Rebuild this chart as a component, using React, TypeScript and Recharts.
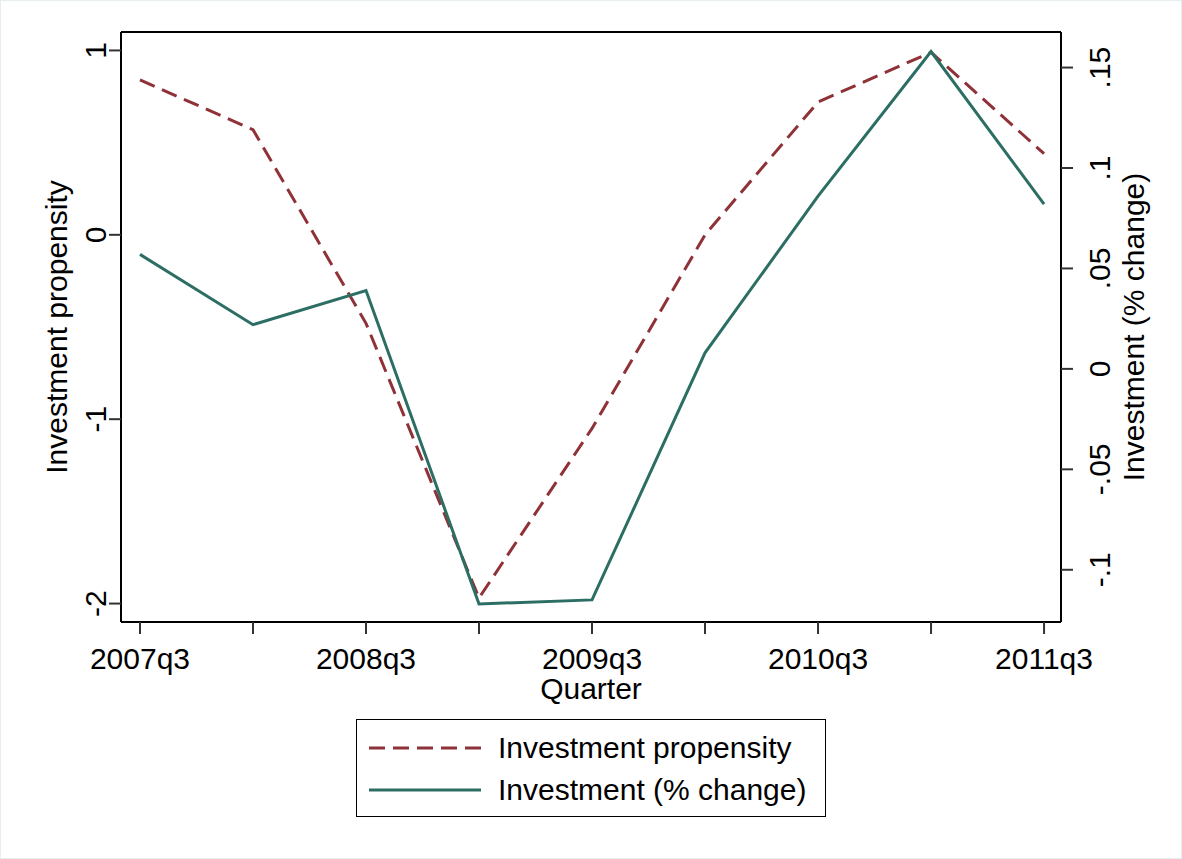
import { LineChart, Line, XAxis, YAxis, Legend, ReferenceLine } from 'recharts';

const quarters = ['2007q3', '2008q1', '2008q3', '2009q1', '2009q3', '2010q1', '2010q3', '2011q1', '2011q3'];
const propensity = [0.84, 0.57, -0.48, -1.97, -1.05, 0.0, 0.72, 0.99, 0.44];
const investment = [0.057, 0.022, 0.039, -0.117, -0.115, 0.008, 0.086, 0.158, 0.082];

const leftTicks = [-2, -1, 0, 1];
const rightTicks = [-0.1, -0.05, 0, 0.05, 0.1, 0.15];
const rightTickLabels = ['-.1', '-.05', '0', '.05', '.1', '.15'];

const seriesNames = ['Investment propensity', 'Investment (% change)'];
const RED = '#8f3238';
const GREEN = '#2c6e64';
const FONT = '"Liberation Sans", Arial, sans-serif';
const FS = 30;

const data = quarters.map((q, i) => ({ i, q, propensity: propensity[i], investment: investment[i] }));

const VTick = ({ x, y, payload, shift, fmt }: any) => (
  <text
    transform={`translate(${x + shift},${y}) rotate(-90)`}
    textAnchor="middle"
    fontFamily={FONT}
    fontSize={FS}
    fill="#000"
  >
    {fmt(payload.value)}
  </text>
);

const XTick = ({ x, y, payload }: any) => {
  const idx = payload.value as number;
  if (idx % 2 !== 0) return null;
  return (
    <text x={x} y={y + 33} textAnchor="middle" fontFamily={FONT} fontSize={FS} fill="#000">
      {quarters[idx]}
    </text>
  );
};

const VLabel = ({ viewBox, value, cx }: any) => {
  const cy = viewBox.y + viewBox.height / 2;
  return (
    <text
      transform={`translate(${viewBox.x + cx},${cy}) rotate(-90)`}
      textAnchor="middle"
      dominantBaseline="central"
      fontFamily={FONT}
      fontSize={FS}
      fill="#000"
    >
      {value}
    </text>
  );
};

const LegendBox = () => (
  <div style={{ height: 131, display: 'flex', justifyContent: 'center', alignItems: 'flex-start' }}>
    <div
      style={{
        marginTop: 22,
        width: 470,
        height: 98,
        border: '1.5px solid #000',
        boxSizing: 'border-box',
        fontFamily: FONT,
        fontSize: FS,
        padding: '7px 0 0 12px',
      }}
    >
      {seriesNames.map((name, k) => (
        <div key={name} style={{ display: 'flex', alignItems: 'center', height: 42 }}>
          <svg width={112} height={6} style={{ marginRight: 17 }}>
            <line
              x1={0}
              y1={3}
              x2={112}
              y2={3}
              stroke={k === 0 ? RED : GREEN}
              strokeWidth={3}
              strokeDasharray={k === 0 ? '16 8' : undefined}
            />
          </svg>
          <span>{name}</span>
        </div>
      ))}
    </div>
  </div>
);

export default function App() {
  return (
    <div
      style={{
        position: 'absolute',
        left: 0,
        top: 0,
        width: 1182,
        height: 859,
        background: '#fff',
        boxSizing: 'border-box',
        border: '1px solid #e6eef0',
      }}
    >
      <LineChart width={1180} height={857} data={data} margin={{ top: 31, right: 0, bottom: 30, left: 0 }}>
        <XAxis
          dataKey="i"
          type="number"
          domain={[-0.168, 8.15]}
          ticks={[0, 1, 2, 3, 4, 5, 6, 7, 8]}
          allowDataOverflow
          height={75}
          tickSize={12}
          axisLine={{ stroke: '#000', strokeWidth: 2 }}
          tickLine={{ stroke: '#333', strokeWidth: 2 }}
          tick={<XTick />}
          label={{
            value: 'Quarter',
            content: ({ viewBox }: any) => (
              <text
                x={viewBox.x + viewBox.width / 2}
                y={viewBox.y + 66}
                textAnchor="middle"
                dominantBaseline="central"
                fontFamily={FONT}
                fontSize={FS}
                fill="#000"
              >
                Quarter
              </text>
            ),
          }}
        />
        <YAxis
          yAxisId="left"
          orientation="left"
          width={120}
          domain={[-2.1, 1.1]}
          ticks={leftTicks}
          allowDataOverflow
          tickSize={12}
          axisLine={{ stroke: '#000', strokeWidth: 2 }}
          tickLine={{ stroke: '#333', strokeWidth: 2 }}
          tick={<VTick shift={-1} fmt={(v: number) => String(v)} />}
          label={<VLabel value="Investment propensity" cx={55} />}
        />
        <YAxis
          yAxisId="right"
          orientation="right"
          width={120}
          domain={[-0.126, 0.1677]}
          ticks={rightTicks}
          allowDataOverflow
          tickSize={12}
          axisLine={{ stroke: '#000', strokeWidth: 2 }}
          tickLine={{ stroke: '#333', strokeWidth: 2 }}
          tick={<VTick shift={35} fmt={(v: number) => rightTickLabels[rightTicks.indexOf(v)] ?? String(v)} />}
          label={<VLabel value="Investment (% change)" cx={72} />}
        />
        <ReferenceLine yAxisId="left" y={1.1} stroke="#000" strokeWidth={2} />
        <Line
          yAxisId="left"
          type="linear"
          dataKey="propensity"
          name={seriesNames[0]}
          stroke={RED}
          strokeWidth={3}
          strokeDasharray="16 8"
          dot={false}
          isAnimationActive={false}
        />
        <Line
          yAxisId="right"
          type="linear"
          dataKey="investment"
          name={seriesNames[1]}
          stroke={GREEN}
          strokeWidth={3}
          dot={false}
          isAnimationActive={false}
        />
        <Legend verticalAlign="bottom" content={<LegendBox />} />
      </LineChart>
    </div>
  );
}
